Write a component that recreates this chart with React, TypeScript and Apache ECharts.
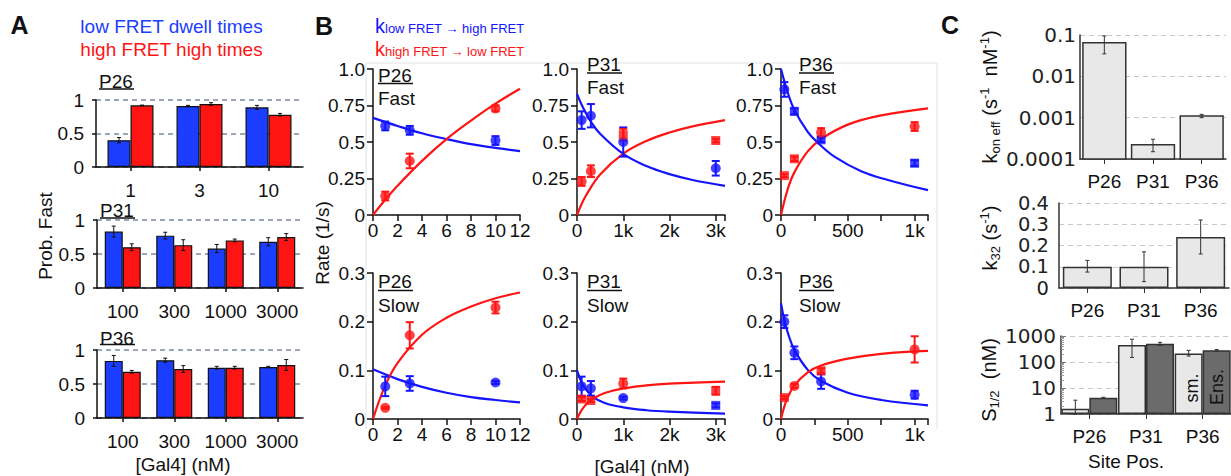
import React, { useEffect, useRef } from 'react';
import * as echarts from 'echarts';

const SANS = '"Liberation Sans", Arial, Helvetica, sans-serif';
const WIDE = '"DejaVu Sans", sans-serif';
const TXT = '#111';
const BLUE_A = '#1a3dff';
const RED_A = '#ff1414';
const BLUE = '#1414ff';
const RED = '#ff1414';
const LIGHT = '#e8e8e8';
const DARK = '#6b6b6b';

// ---------------- Panel A : Prob. Fast ----------------
const aLegend = ['low FRET dwell times', 'high FRET high times'];
const aP26Cats = ['1', '3', '10'];
const aP26Low = [0.40, 0.91, 0.89];
const aP26LowErr = [0.04, 0.01, 0.03];
const aP26High = [0.92, 0.94, 0.78];
const aP26HighErr = [0.004, 0.02, 0.02];
const aP31Cats = ['100', '300', '1000', '3000'];
const aP31Low = [0.83, 0.77, 0.58, 0.68];
const aP31LowErr = [0.08, 0.05, 0.06, 0.06];
const aP31High = [0.60, 0.63, 0.70, 0.75];
const aP31HighErr = [0.05, 0.08, 0.02, 0.05];
const aP36Cats = ['100', '300', '1000', '3000'];
const aP36Low = [0.84, 0.85, 0.74, 0.75];
const aP36LowErr = [0.08, 0.03, 0.02, 0.01];
const aP36High = [0.68, 0.72, 0.74, 0.78];
const aP36HighErr = [0.02, 0.05, 0.02, 0.08];

// ---------------- Panel B : rates ----------------
// [x, y, err, marker]
const bP26FastLow = [[1, 0.61, 0.03, 'c'], [3, 0.58, 0.03, 'c'], [10, 0.51, 0.03, 'c']];
const bP26FastHigh = [[1, 0.13, 0.03, 'c'], [3, 0.37, 0.05, 'c'], [10, 0.73, 0.02, 'c']];
const bP26FastLowFit = [[0, 0.665], [2, 0.61], [4, 0.56], [6, 0.52], [8, 0.485], [10, 0.46], [12, 0.437]];
const bP26FastHighFit = [[0, 0], [1, 0.104], [2, 0.2], [4, 0.371], [6, 0.52], [8, 0.647], [10, 0.763], [12, 0.865]];

const bP31FastLow = [[100, 0.65, 0.06, 'c'], [300, 0.68, 0.08, 'c'], [1000, 0.50, 0.10, 'c'], [3000, 0.32, 0.05, 'c']];
const bP31FastHigh = [[100, 0.23, 0.03, 'c'], [300, 0.30, 0.04, 'c'], [1000, 0.55, 0.04, 's'], [3000, 0.51, 0.012, 's']];
const bP31FastLowFit = [[0, 0.83], [100, 0.755], [200, 0.694], [300, 0.64], [500, 0.556], [1000, 0.418], [1500, 0.335], [2000, 0.28], [2500, 0.24], [3200, 0.2]];
const bP31FastHighFit = [[0, 0], [100, 0.075], [200, 0.137], [500, 0.277], [1000, 0.42], [1500, 0.507], [2000, 0.565], [2500, 0.607], [3200, 0.65]];

const bP36FastLow = [[25, 0.86, 0.05, 'c'], [100, 0.71, 0.02, 's'], [300, 0.515, 0.015, 's'], [1000, 0.355, 0.02, 's']];
const bP36FastHigh = [[25, 0.27, 0.01, 's'], [100, 0.385, 0.015, 's'], [300, 0.565, 0.03, 'c'], [1000, 0.606, 0.03, 'c']];
const bP36FastLowFit = [[0, 1.0], [50, 0.84], [100, 0.72], [200, 0.57], [270, 0.5], [400, 0.4], [600, 0.3], [800, 0.24], [1100, 0.17]];
const bP36FastHighFit = [[0, 0], [50, 0.176], [100, 0.292], [200, 0.436], [300, 0.52], [500, 0.619], [750, 0.682], [1100, 0.73]];

const bP26SlowLow = [[1, 0.067, 0.02, 'c'], [3, 0.073, 0.015, 'c'], [10, 0.075, 0.003, 'c']];
const bP26SlowHigh = [[1, 0.023, 0.002, 'c'], [3, 0.172, 0.027, 'c'], [10, 0.229, 0.012, 'c']];
const bP26SlowLowFit = [[0, 0.102], [2, 0.082], [4, 0.066], [6, 0.054], [8, 0.045], [10, 0.039], [12, 0.034]];
const bP26SlowHighFit = [[0, 0], [1, 0.069], [2, 0.115], [4, 0.173], [6, 0.208], [8, 0.231], [10, 0.248], [12, 0.26]];

const bP31SlowLow = [[100, 0.067, 0.02, 'c'], [300, 0.063, 0.015, 'c'], [1000, 0.043, 0.003, 'c'], [3000, 0.028, 0.004, 's']];
const bP31SlowHigh = [[100, 0.041, 0.004, 's'], [300, 0.038, 0.003, 's'], [1000, 0.073, 0.01, 'c'], [3000, 0.058, 0.008, 's']];
const bP31SlowLowFit = [[0, 0.1], [100, 0.075], [200, 0.06], [350, 0.045], [600, 0.033], [1000, 0.024], [1500, 0.018], [2000, 0.015], [3200, 0.011]];
const bP31SlowHighFit = [[0, 0], [100, 0.0184], [200, 0.0304], [350, 0.042], [600, 0.0533], [1000, 0.0629], [1500, 0.069], [2000, 0.0726], [3200, 0.077]];

const bP36SlowLow = [[25, 0.2, 0.013, 'c'], [100, 0.136, 0.013, 'c'], [300, 0.077, 0.015, 'c'], [1000, 0.05, 0.008, 'c']];
const bP36SlowHigh = [[25, 0.044, 0.003, 's'], [100, 0.068, 0.004, 'c'], [300, 0.099, 0.005, 's'], [1000, 0.143, 0.027, 'c']];
const bP36SlowLowFit = [[0, 0.238], [25, 0.203], [50, 0.178], [100, 0.142], [200, 0.101], [300, 0.078], [500, 0.054], [750, 0.039], [1100, 0.028]];
const bP36SlowHighFit = [[0, 0], [25, 0.026], [50, 0.044], [100, 0.069], [200, 0.096], [300, 0.11], [500, 0.124], [750, 0.134], [1100, 0.14]];

// ---------------- Panel C ----------------
const cSites = ['P26', 'P31', 'P36'];
const cKon = [0.065, 0.00022, 0.0011];
const cKonLo = [0.035, 0.00015, 0.001];
const cKonHi = [0.095, 0.0003, 0.0012];
const cKonTicks = ['0.0001', '0.001', '0.01', '0.1'];
const cK32 = [0.10, 0.10, 0.24];
const cK32Lo = [0.075, 0.03, 0.16];
const cK32Hi = [0.13, 0.17, 0.32];
const cS12Sm = [1.6, 450, 210];
const cS12SmLo = [1.0, 150, 170];
const cS12SmHi = [3.4, 750, 280];
const cS12Ens = [4.2, 500, 280];
const cS12EnsLo = [4.0, 430, 265];
const cS12EnsHi = [4.4, 570, 300];
const cS12Ticks = ['1', '10', '100', '1000'];

// ---------------- helpers ----------------
function errRender(color: string, lw: number, cap: number, offset: number) {
  return (_p: any, api: any) => {
    const x = api.value(0);
    const lo = api.coord([x, api.value(1)]);
    const hi = api.coord([x, api.value(2)]);
    const px = lo[0] + offset;
    const style = { stroke: color, lineWidth: lw, fill: 'none' };
    return {
      type: 'group',
      children: [
        { type: 'line', shape: { x1: px, y1: lo[1], x2: px, y2: hi[1] }, style },
        { type: 'line', shape: { x1: px - cap, y1: lo[1], x2: px + cap, y2: lo[1] }, style },
        { type: 'line', shape: { x1: px - cap, y1: hi[1], x2: px + cap, y2: hi[1] }, style },
      ],
    };
  };
}

const axLine = { show: true, lineStyle: { color: '#111', width: 1.5 } };
const axTick = (len: number, extra: any = {}) => ({ show: true, length: len, lineStyle: { color: '#111', width: 1.5 }, ...extra });

const grids: any[] = [
  { left: 96, top: 100, width: 207, height: 67 }, // 0 A P26
  { left: 97, top: 220, width: 206, height: 68 }, // 1 A P31
  { left: 97, top: 350, width: 206, height: 68 }, // 2 A P36
  { left: 373, top: 69, width: 147, height: 146 }, // 3 B P26 fast
  { left: 577, top: 69, width: 148, height: 146 }, // 4 B P31 fast
  { left: 781, top: 69, width: 147, height: 146 }, // 5 B P36 fast
  { left: 373, top: 273, width: 147, height: 146 }, // 6 B P26 slow
  { left: 577, top: 273, width: 148, height: 146 }, // 7 B P31 slow
  { left: 781, top: 273, width: 147, height: 146 }, // 8 B P36 slow
  { left: 1080, top: 35, width: 146, height: 124 }, // 9 C kon
  { left: 1059, top: 203, width: 170, height: 85 }, // 10 C k32
  { left: 1061, top: 336, width: 170, height: 78 }, // 11 C S1/2
];

const xAxes: any[] = [];
const yAxes: any[] = [];
const series: any[] = [];

// Panel A axes & series
const aSets = [
  { cats: aP26Cats, low: aP26Low, lowE: aP26LowErr, high: aP26High, highE: aP26HighErr, bw: 23 },
  { cats: aP31Cats, low: aP31Low, lowE: aP31LowErr, high: aP31High, highE: aP31HighErr, bw: 18 },
  { cats: aP36Cats, low: aP36Low, lowE: aP36LowErr, high: aP36High, highE: aP36HighErr, bw: 18 },
];
aSets.forEach((s, gi) => {
  xAxes.push({
    type: 'category', gridIndex: gi, data: s.cats,
    axisLine: axLine, axisTick: axTick(4, { alignWithLabel: true, interval: 0 }),
    axisLabel: { fontFamily: SANS, fontSize: 19, color: TXT, margin: 14, interval: 0 },
  });
  yAxes.push({
    type: 'value', gridIndex: gi, min: 0, max: 1, interval: 0.5,
    axisLine: axLine, axisTick: axTick(4),
    axisLabel: { fontFamily: SANS, fontSize: 19, color: TXT, margin: 12, formatter: (v: number) => (v === 0 ? '0' : v === 1 ? '1' : String(v)) },
    splitLine: { show: true, lineStyle: { color: '#7d8ba0', type: [5, 4], width: 1.5 } },
  });
  series.push({
    type: 'bar', xAxisIndex: gi, yAxisIndex: gi, data: s.low, barWidth: s.bw, barGap: '0%',
    itemStyle: { color: BLUE_A, borderColor: '#111', borderWidth: 1.2 },
  });
  series.push({
    type: 'bar', xAxisIndex: gi, yAxisIndex: gi, data: s.high, barWidth: s.bw, barGap: '0%',
    itemStyle: { color: RED_A, borderColor: '#111', borderWidth: 1.2 },
  });
  series.push({
    type: 'custom', xAxisIndex: gi, yAxisIndex: gi, z: 5,
    data: s.low.map((v, i) => [i, v - s.lowE[i], v + s.lowE[i]]),
    renderItem: errRender('#111', 1, 2, -s.bw / 2),
  });
  series.push({
    type: 'custom', xAxisIndex: gi, yAxisIndex: gi, z: 5,
    data: s.high.map((v, i) => [i, v - s.highE[i], v + s.highE[i]]),
    renderItem: errRender('#111', 1, 2, s.bw / 2),
  });
});

// Panel B axes & series
const fmtTop = (v: number) => (v === 0 ? '0' : v === 1 ? '1.0' : String(v));
const fmtBot = (v: number) => (v === 0 ? '0' : v.toFixed(1));
const fmtK = (v: number) => (v % 1000 === 0 ? (v === 0 ? '0' : v / 1000 + 'k') : '');
const fmt500 = (v: number) => (v === 0 ? '0' : v === 500 ? '500' : v === 1000 ? '1k' : '');
const fmtLin = (v: number) => String(v);

const bSets = [
  { gi: 3, xmax: 12, xint: 2, xf: fmtLin, ymax: 1, yint: 0.25, yf: fmtTop, low: bP26FastLow, high: bP26FastHigh, lf: bP26FastLowFit, hf: bP26FastHighFit },
  { gi: 4, xmax: 3200, xint: 1000, xf: fmtK, ymax: 1, yint: 0.25, yf: fmtTop, low: bP31FastLow, high: bP31FastHigh, lf: bP31FastLowFit, hf: bP31FastHighFit },
  { gi: 5, xmax: 1100, xint: 250, xf: fmt500, ymax: 1, yint: 0.25, yf: fmtTop, low: bP36FastLow, high: bP36FastHigh, lf: bP36FastLowFit, hf: bP36FastHighFit },
  { gi: 6, xmax: 12, xint: 2, xf: fmtLin, ymax: 0.3, yint: 0.1, yf: fmtBot, low: bP26SlowLow, high: bP26SlowHigh, lf: bP26SlowLowFit, hf: bP26SlowHighFit },
  { gi: 7, xmax: 3200, xint: 1000, xf: fmtK, ymax: 0.3, yint: 0.1, yf: fmtBot, low: bP31SlowLow, high: bP31SlowHigh, lf: bP31SlowLowFit, hf: bP31SlowHighFit },
  { gi: 8, xmax: 1100, xint: 250, xf: fmt500, ymax: 0.3, yint: 0.1, yf: fmtBot, low: bP36SlowLow, high: bP36SlowHigh, lf: bP36SlowLowFit, hf: bP36SlowHighFit },
];
bSets.forEach((s) => {
  const gi = s.gi;
  xAxes.push({
    type: 'value', gridIndex: gi, min: 0, max: s.xmax, interval: s.xint,
    axisLine: axLine, axisTick: axTick(6),
    axisLabel: { fontFamily: SANS, fontSize: 19, color: TXT, margin: 6, formatter: s.xf, showMaxLabel: true },
    splitLine: { show: false },
  });
  yAxes.push({
    type: 'value', gridIndex: gi, min: 0, max: s.ymax, interval: s.yint,
    axisLine: axLine, axisTick: axTick(6),
    axisLabel: { fontFamily: SANS, fontSize: 19, color: TXT, margin: 8, formatter: s.yf },
    splitLine: { show: false },
  });
  const pairs: [any[], any[], string][] = [[s.low, s.lf, BLUE], [s.high, s.hf, RED]];
  pairs.forEach(([pts, fit, col]) => {
    series.push({
      type: 'line', xAxisIndex: gi, yAxisIndex: gi, data: fit, smooth: 0.4, symbol: 'none',
      lineStyle: { color: col, width: 2.2 }, z: 2,
    });
  });
  pairs.forEach(([pts, fit, col]) => {
    series.push({
      type: 'custom', xAxisIndex: gi, yAxisIndex: gi, z: 3,
      data: pts.map((p: any[]) => [p[0], p[1] - p[2], p[1] + p[2]]),
      renderItem: errRender(col, 2, 4, 0),
    });
    series.push({
      type: 'scatter', xAxisIndex: gi, yAxisIndex: gi, z: 4,
      data: pts.map((p: any[]) => ({ value: [p[0], p[1]], symbol: p[3] === 's' ? 'rect' : 'circle', symbolSize: p[3] === 's' ? 9 : 10 })),
      itemStyle: { color: col },
    });
  });
});

// Panel C axes & series
const cTickLabel = { fontFamily: WIDE, fontSize: 20, lineHeight: 20, color: '#222' };
const cSplit = { show: true, lineStyle: { color: '#c8c8c8', type: [5, 4], width: 1 } };
const cLine = { show: true, lineStyle: { color: '#333', width: 1.5 } };
[9, 10, 11].forEach((gi) => {
  xAxes.push({
    type: 'category', gridIndex: gi, data: cSites,
    axisLine: cLine, axisTick: { show: true, alignWithLabel: true, interval: 0, length: 5, lineStyle: { color: '#333' } },
    axisLabel: { fontFamily: SANS, fontSize: 19, color: TXT, margin: 13, interval: 0 },
  });
});
yAxes.push({
  type: 'log', gridIndex: 9, min: 0.0001, max: 0.1, logBase: 10,
  axisLine: cLine, axisTick: { show: false },
  axisLabel: { ...cTickLabel, margin: 4, formatter: (v: number) => cKonTicks[Math.round(Math.log10(v)) + 4] },
  splitLine: cSplit,
});
yAxes.push({
  type: 'value', gridIndex: 10, min: 0, max: 0.4, interval: 0.1,
  axisLine: cLine, axisTick: { show: false },
  axisLabel: { ...cTickLabel, fontSize: 19.5, lineHeight: 19, margin: 10, formatter: fmtBot },
  splitLine: cSplit,
});
yAxes.push({
  type: 'log', gridIndex: 11, min: 1, max: 1000, logBase: 10,
  axisLine: cLine, axisTick: { show: true, inside: true, length: 5, lineStyle: { color: '#777' } },
  minorTick: { show: true, splitNumber: 9, length: 3, lineStyle: { color: '#999' } },
  axisLabel: { ...cTickLabel, margin: 5, formatter: (v: number) => cS12Ticks[Math.round(Math.log10(v))] },
  splitLine: cSplit,
});

// kon bars (custom, log axis base at min)
series.push({
  type: 'custom', xAxisIndex: 9, yAxisIndex: 9, z: 3,
  data: cKon.map((v, i) => [i, v]),
  renderItem: (_p: any, api: any) => {
    const i = api.value(0);
    const v = api.value(1);
    const base = api.coord([i, 0.0001]);
    const top = api.coord([i, v]);
    const bw = (api.coord([1, v])[0] - api.coord([0, v])[0]) * 0.88;
    return {
      type: 'rect',
      shape: { x: base[0] - bw / 2, y: top[1], width: bw, height: base[1] - top[1] },
      style: { fill: LIGHT, stroke: '#333', lineWidth: 1.5 },
    };
  },
});
series.push({
  type: 'custom', xAxisIndex: 9, yAxisIndex: 9, z: 5,
  data: cKon.map((_v, i) => [i, cKonLo[i], cKonHi[i]]),
  renderItem: errRender('#333', 1, 2, 0),
});
series.push({
  type: 'bar', xAxisIndex: 10, yAxisIndex: 10, data: cK32, barWidth: 49,
  itemStyle: { color: LIGHT, borderColor: '#333', borderWidth: 1.5 },
});
series.push({
  type: 'custom', xAxisIndex: 10, yAxisIndex: 10, z: 5,
  data: cK32.map((_v, i) => [i, cK32Lo[i], cK32Hi[i]]),
  renderItem: errRender('#333', 1, 2, 0),
});
series.push({
  type: 'bar', xAxisIndex: 11, yAxisIndex: 11, data: cS12Sm, barWidth: 28, barGap: '0%',
  itemStyle: { color: LIGHT, borderColor: '#333', borderWidth: 1.5 },
});
series.push({
  type: 'bar', xAxisIndex: 11, yAxisIndex: 11, data: cS12Ens, barWidth: 28, barGap: '0%',
  itemStyle: { color: DARK, borderColor: '#333', borderWidth: 1.5 },
});
series.push({
  type: 'custom', xAxisIndex: 11, yAxisIndex: 11, z: 5,
  data: cS12Sm.map((_v, i) => [i, cS12SmLo[i], cS12SmHi[i]]),
  renderItem: errRender('#333', 1, 2, -14),
});
series.push({
  type: 'custom', xAxisIndex: 11, yAxisIndex: 11, z: 5,
  data: cS12Ens.map((_v, i) => [i, cS12EnsLo[i], cS12EnsHi[i]]),
  renderItem: errRender('#333', 1, 2, 14),
});

// ---------------- graphic texts ----------------
function T(x: number, y: number, text: string, o: any = {}, rotation = 0): any {
  return {
    type: 'text', x, y, rotation, silent: true, z: 10,
    style: { text, fontFamily: SANS, fontSize: 19, fill: TXT, align: 'left', verticalAlign: 'middle', ...o },
  };
}
function U(x1: number, x2: number, y: number): any {
  return { type: 'line', silent: true, z: 10, shape: { x1, y1: y, x2, y2: y }, style: { stroke: TXT, lineWidth: 1.5 } };
}
const sub = (fs: number) => ({ fontFamily: SANS, fontSize: fs, lineHeight: fs, verticalAlign: 'bottom', fill: TXT });
const sup = (fs: number) => ({ fontFamily: SANS, fontSize: fs, lineHeight: fs, verticalAlign: 'top', fill: TXT });
const main = (fs: number, lh: number) => ({ fontFamily: SANS, fontSize: fs, lineHeight: lh, fill: TXT });

const graphics: any[] = [
  {
    type: 'polyline', silent: true, z: 0,
    shape: { points: [[366, 429], [366, 63], [937, 63], [937, 429]] },
    style: { stroke: '#e2e2e2', fill: 'none', lineWidth: 1 },
  },
  T(19.5, 25, 'A', { fontWeight: 'bold', fontSize: 25, align: 'center' }),
  T(324, 25.5, 'B', { fontWeight: 'bold', fontSize: 25, align: 'center' }),
  T(950, 25, 'C', { fontWeight: 'bold', fontSize: 25, align: 'center' }),
  T(171.5, 26, aLegend[0], { fill: BLUE_A, align: 'center' }),
  T(171.5, 49, aLegend[1], { fill: RED_A, align: 'center' }),
  T(99, 81, 'P26'), U(99, 134, 89),
  T(100, 210, 'P31'), U(100, 135, 218),
  T(100, 338, 'P36'), U(100, 135, 344.5),
  T(45, 236, 'Prob. Fast', { align: 'center' }, Math.PI / 2),
  T(183, 464, '[Gal4] (nM)', { align: 'center' }),
  // B legend
  T(375, 26, '{k|k}{s|low FRET \u2192 high FRET}', {
    rich: { k: { ...main(20, 18), fill: BLUE }, s: { ...sub(13), fill: BLUE } },
  }),
  T(375, 48.5, '{k|k}{s|high FRET \u2192 low FRET}', {
    rich: { k: { ...main(20, 18), fill: RED }, s: { ...sub(13), fill: RED } },
  }),
  T(378, 75.5, 'P26'), U(378, 413, 83.5), T(378, 98.5, 'Fast'),
  T(587, 64.5, 'P31'), U(587, 622, 73), T(587, 87, 'Fast'),
  T(799, 64.5, 'P36'), U(799, 834, 73), T(799, 87, 'Fast'),
  T(378, 281.5, 'P26'), U(378, 413, 290.5), T(378, 305, 'Slow'),
  T(587, 281.5, 'P31'), U(587, 622, 290.5), T(587, 305, 'Slow'),
  T(799, 281.5, 'P36'), U(799, 834, 290.5), T(799, 305, 'Slow'),
  T(322, 243, 'Rate (1/s)', { align: 'center' }, Math.PI / 2),
  T(642, 466, '[Gal4] (nM)', { align: 'center' }),
  // C titles
  T(990, 97, '{m|k}{b|on eff}{m| (s}{p|-1}{m|  nM}{p|-1}{m|)}', {
    align: 'center', rich: { m: main(20, 24), b: sub(13), p: sup(13) },
  }, Math.PI / 2),
  T(990, 238, '{m|k}{b|32}{m| (s}{p|-1}{m|)}', {
    align: 'center', rich: { m: main(20, 24), b: sub(13), p: sup(13) },
  }, Math.PI / 2),
  T(989, 380, '{m|S}{b|1/2}{m|  (nM)}', {
    align: 'center', rich: { m: main(20, 24), b: sub(13) },
  }, Math.PI / 2),
  T(1192, 388, 'sm.', { align: 'center', fontSize: 18 }, Math.PI / 2),
  T(1217, 387, 'Ens.', { align: 'center', fontSize: 18 }, Math.PI / 2),
  T(1126, 461, 'Site Pos.', { align: 'center' }),
];

const option: any = {
  animation: false,
  backgroundColor: '#fff',
  grid: grids,
  xAxis: xAxes,
  yAxis: yAxes,
  series,
  graphic: graphics,
};

export default function App() {
  const ref = useRef<HTMLDivElement>(null);
  useEffect(() => {
    const chart = echarts.init(ref.current as HTMLDivElement, null, { renderer: 'svg', width: 1231, height: 476 });
    chart.setOption(option);
    return () => chart.dispose();
  }, []);
  return (
    <div
      ref={ref}
      style={{ position: 'fixed', left: 0, top: 0, width: 1231, height: 476, background: '#fff' }}
    />
  );
}
